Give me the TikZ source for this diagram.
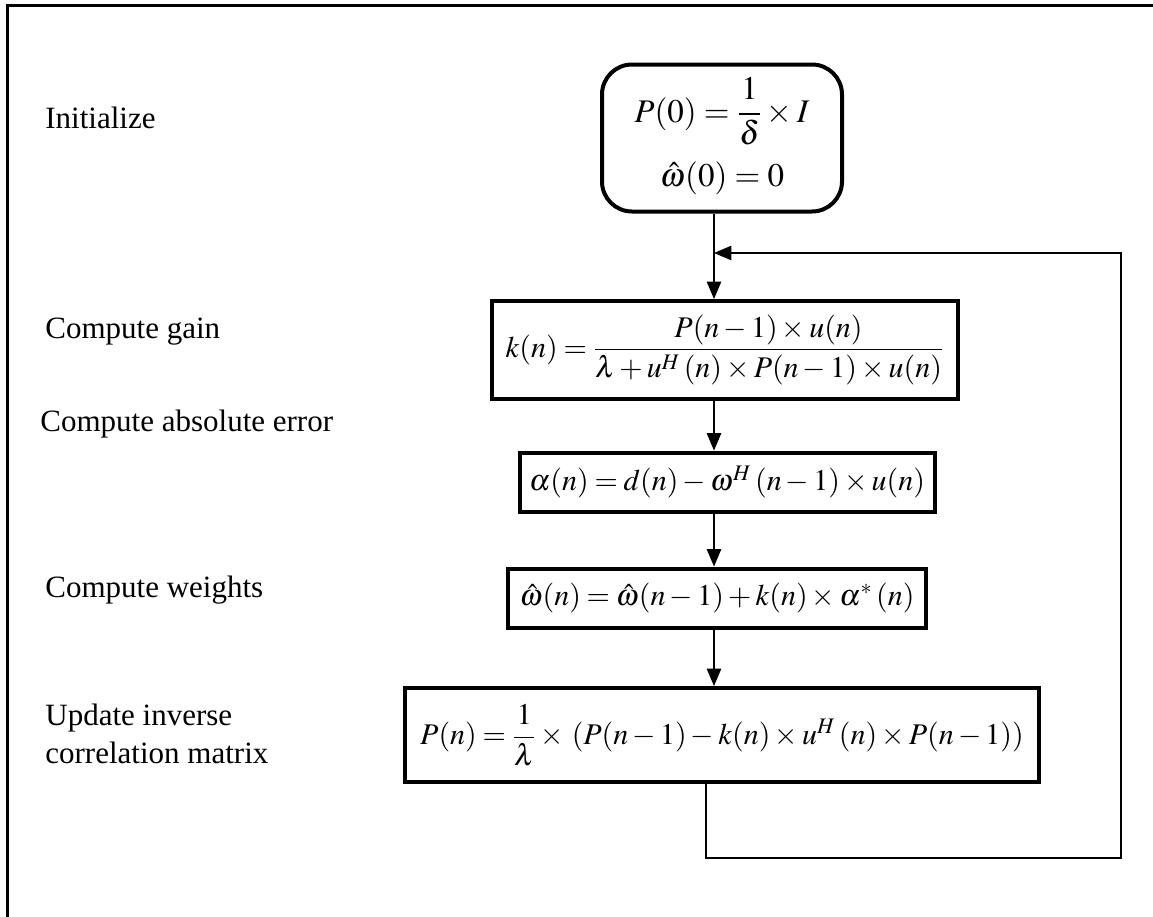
\documentclass[tikz,border=0pt]{standalone}
\usepackage{amsmath}
\usepackage{mathptmx}
\usepackage{fontspec}
\setmainfont{Liberation Serif}
\usepackage{tikz}
\usetikzlibrary{positioning,arrows}

\newcommand{\tightmath}{\medmuskip=2.5mu\thickmuskip=3.5mu}

\begin{document}
\begin{tikzpicture}[x=0.5pt,y=-0.5pt,>=triangle 45,
	stepbox/.style={rectangle,draw,line width=2pt,inner sep=0pt,font=\fontsize{15}{18}\selectfont\tightmath},
	startbox/.style={rectangle,draw,line width=2pt,inner sep=0pt,rounded corners=15pt,font=\fontsize{16.5}{20}\selectfont},
	tag/.style={anchor=west,inner sep=0pt,align=left,font=\fontsize{15.5}{19}\selectfont},
	flow/.style={->,line width=1pt}]
	
	\useasboundingbox (0,0) rectangle (1153,917);
	\draw[line width=1.5pt] (7,917) -- (7,5) -- (1153,5);
	
	\node [startbox,minimum width=120pt,minimum height=73.5pt] (init) at (722,138) {$\begin{array}{c}P(0)=\dfrac{1}{\delta}\times I\\[12pt]\hat{\omega}(0)=0\end{array}$};
	\node [stepbox,minimum width=233pt,minimum height=49pt] (gain) at (725,350) {$k(n)=\dfrac{P(n-1)\times u(n)}{\lambda+u^{H}\,(n)\times P(n-1)\times u(n)}$};
	\node [stepbox,minimum width=207.5pt,minimum height=29.5pt] (err) at (727,482) {$\alpha(n)=d(n)-\omega^{H}\,(n-1)\times u(n)$};
	\node [stepbox,minimum width=209pt,minimum height=29.5pt] (wts) at (717,598) {$\hat{\omega}(n)=\hat{\omega}(n-1)+k(n)\times\alpha^{*}\,(n)$};
	\node [stepbox,minimum width=317pt,minimum height=47pt] (upd) at (722,735) {$P(n)=\dfrac{1}{\lambda}\times\,(P(n-1)-k(n)\times u^{H}\,(n)\times P(n-1))$};
	
	\node [tag] (tinit) at (45,118) {Initialize};
	\node [tag] (tgain) at (45,332) {Compute gain};
	\node [tag] (terr) at (40,424) {Compute absolute error};
	\node [tag] (twts) at (45,590) {Compute weights};
	\node [tag] (tupd) at (45,734) {Update inverse\\correlation matrix};
	
	\coordinate (spine) at (714,0);
	\coordinate (loopbl) at (706,858);
	\coordinate (loopbr) at (1121,858);
	\coordinate (looptr) at (1121,253);
	
	\draw[flow] (init.south -| spine) to (gain.north -| spine);
	\draw[flow] (gain.south -| spine) to (err.north -| spine);
	\draw[flow] (err.south -| spine) to (wts.north -| spine);
	\draw[flow] (wts.south -| spine) to (upd.north -| spine);
	
	% feedback loop back to the top
	\draw[flow] (upd.south -| loopbl) -- (loopbl) -- (loopbr) -- (looptr) -- (looptr -| spine);
\end{tikzpicture}
\end{document}
